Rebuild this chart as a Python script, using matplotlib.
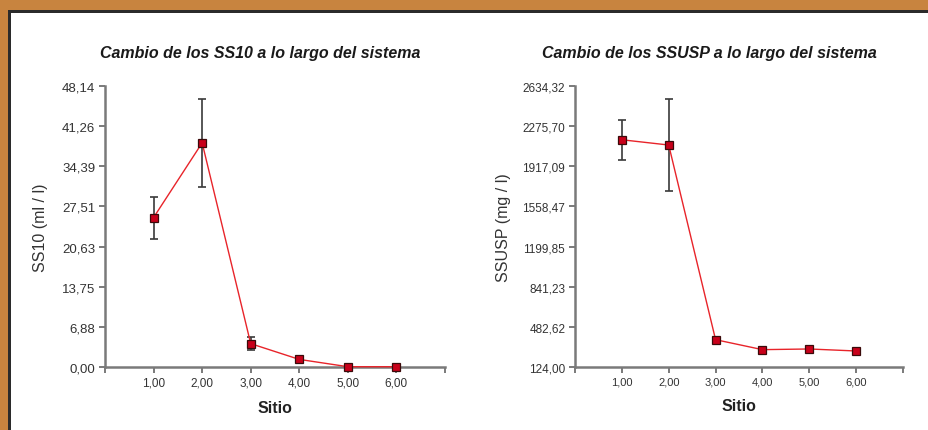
import numpy as np
import matplotlib.pyplot as plt
from matplotlib.patches import Rectangle

plt.rcParams['font.family'] = ['Liberation Sans', 'DejaVu Sans']

# Data
sitio = [1, 2, 3, 4, 5, 6]
ss10 = [25.6, 38.4, 4.0, 1.3, 0.05, 0.05]
ss10_err = [3.6, 7.5, 1.1, 0.0, 0.0, 0.0]
ssusp = [2154, 2107, 368, 279, 285, 267]
ssusp_err = [177, 412, 0, 0, 0, 0]

ss10_ticks = [0.00, 6.88, 13.75, 20.63, 27.51, 34.39, 41.26, 48.14]
ssusp_ticks = [124.00, 482.62, 841.23, 1199.85, 1558.47, 1917.09, 2275.70, 2634.32]
x_ticks = [0, 1, 2, 3, 4, 5, 6, 7]
x_labels = ["", "1,00", "2,00", "3,00", "4,00", "5,00", "6,00", ""]

axis_col = "#7a7a7a"
text_col = "#333333"

fig = plt.figure(figsize=(9.29, 4.31), dpi=100)
fig.patch.set_facecolor("white")

# orange frame with dark inner line
fig.patches.append(Rectangle((0, 0), 1, 1, transform=fig.transFigure,
                             facecolor="#c8843f", edgecolor="none", zorder=-3))
fig.patches.append(Rectangle((8 / 929, -0.1), 1.1, 1 - 11 / 431 + 0.1, transform=fig.transFigure,
                             facecolor="#2b2b2b", edgecolor="none", zorder=-2))
fig.patches.append(Rectangle((11 / 929, -0.1), 1.1, 1 - 14 / 431 + 0.1, transform=fig.transFigure,
                             facecolor="white", edgecolor="none", zorder=-1))


def make_panel(rect, y, yerr, yticks, title, ylabel, ysize, xsize, ypad, tx):
    ax = fig.add_axes(rect)
    ax.patch.set_alpha(0)
    ax.errorbar(sitio, y, yerr=yerr, fmt="none", ecolor="#3a3a3a",
                elinewidth=1.2, capsize=3, capthick=1.2, zorder=2)
    ax.plot(sitio, y, color="#e8242a", lw=1.0, marker="s", markersize=5.5,
            markerfacecolor="#c8001a", markeredgecolor="#3a0a0a",
            markeredgewidth=0.9, zorder=3)
    ax.set_xlim(0, 7)
    ax.set_ylim(yticks[0], yticks[-1])
    ax.set_xticks(x_ticks)
    ax.set_xticklabels(x_labels)
    ax.set_yticks(yticks)
    ax.set_yticklabels([("%.2f" % v).replace(".", ",") for v in yticks])
    for s in ["top", "right"]:
        ax.spines[s].set_visible(False)
    for s in ["left", "bottom"]:
        ax.spines[s].set_color(axis_col)
        ax.spines[s].set_linewidth(1.8)
    ax.tick_params(axis="both", colors=axis_col, labelcolor=text_col,
                   length=4, width=1.4, pad=3)
    ax.tick_params(axis="y", labelsize=ysize)
    ax.tick_params(axis="x", labelsize=xsize)
    ax.set_title(title, fontsize=11.5, fontweight="bold", style="italic",
                 color="#1a1a1a", pad=21, x=tx)
    ax.set_xlabel("Sitio", fontsize=11.5, fontweight="bold", color="#222222", labelpad=8)
    ax.set_ylabel(ylabel, fontsize=11.5, color=text_col, labelpad=ypad)
    for c in ax.get_children():
        if hasattr(c, "set_clip_on"):
            c.set_clip_on(False)
    return ax


make_panel([105 / 929, 1 - 368 / 431, 340 / 929, 281 / 431], ss10, ss10_err,
           ss10_ticks, "Cambio de los SS10 a lo largo del sistema", "SS10 (ml / l)",
           9.5, 8.5, 10, 0.456)
make_panel([575 / 929, 1 - 368 / 431, 328 / 929, 281 / 431], ssusp, ssusp_err,
           ssusp_ticks, "Cambio de los SSUSP a lo largo del sistema", "SSUSP (mg / l)",
           8.5, 8, 8, 0.41)

plt.savefig("out.png", dpi=100)
